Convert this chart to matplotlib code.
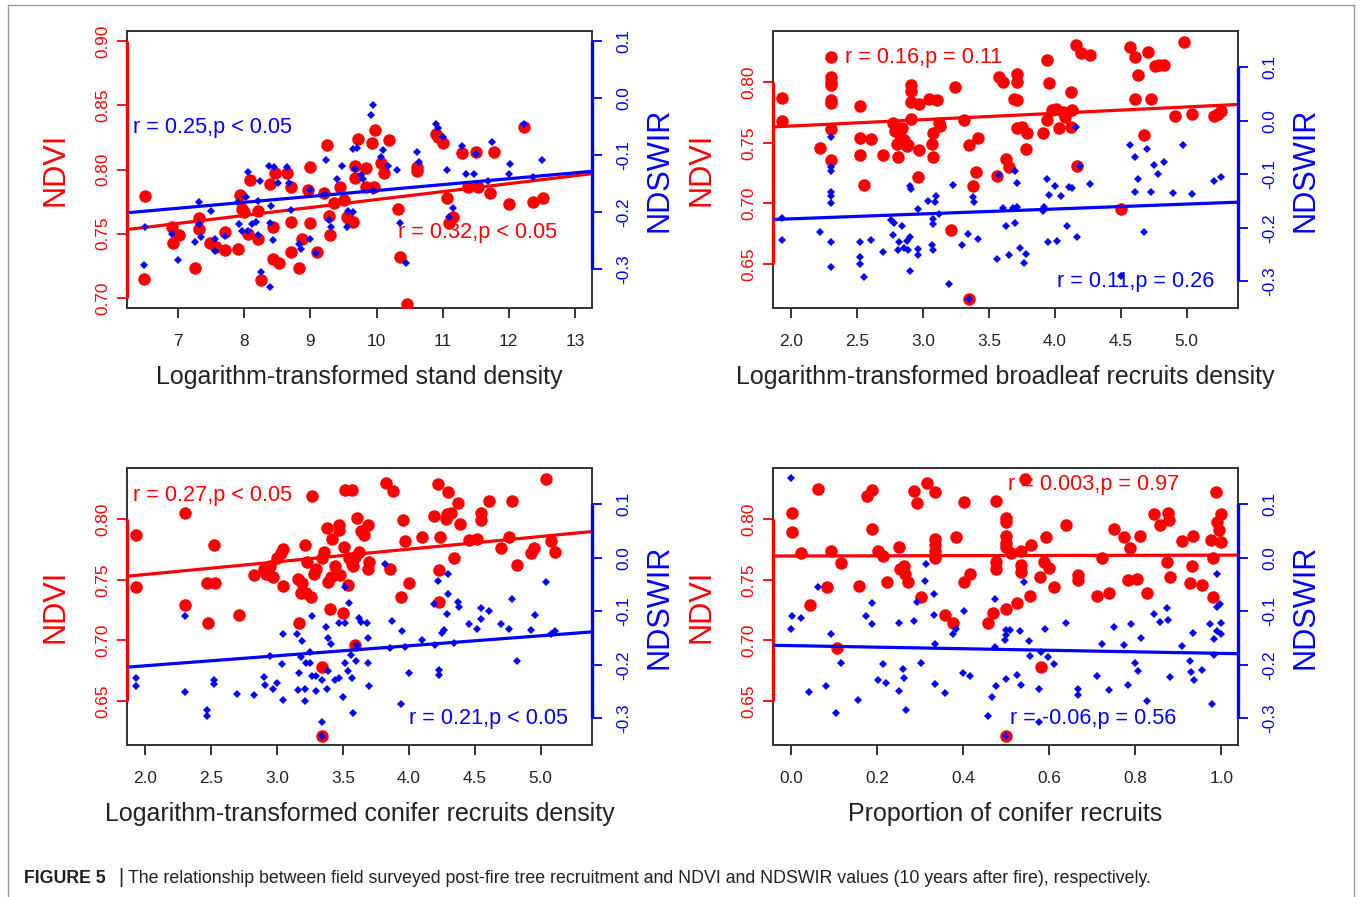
import matplotlib
matplotlib.use('Agg')
import matplotlib.pyplot as plt
from matplotlib import font_manager
from matplotlib.transforms import blended_transform_factory
from matplotlib.lines import Line2D

# ---------------- data ----------------
# Panel 1: stand density
stand_ndvi_pts = [(6.50,0.779),(6.48,0.715),(6.90,0.755),(6.92,0.743),(7.01,0.749),(7.25,0.723),(7.31,0.762),
    (7.32,0.754),(7.48,0.743),(7.57,0.740),(7.71,0.737),(7.71,0.751),(7.90,0.738),(7.93,0.780),(7.97,0.769),
    (8.00,0.767),(8.06,0.750),(8.08,0.792),(8.20,0.768),(8.20,0.746),(8.25,0.714),(8.39,0.789),(8.44,0.755),
    (8.44,0.730),(8.47,0.797),(8.52,0.727),(8.64,0.797),(8.70,0.786),(8.71,0.736),(8.71,0.759),(8.82,0.723),
    (8.87,0.746),(8.99,0.802),(8.97,0.784),(9.00,0.758),(9.10,0.736),(9.21,0.782),(9.25,0.819),(9.28,0.764),
    (9.29,0.749),(9.35,0.774),(9.45,0.786),(9.50,0.776),(9.55,0.763),(9.60,0.760),(9.65,0.759),(9.68,0.803),
    (9.68,0.793),(9.72,0.824),(9.84,0.801),(9.84,0.786),(9.93,0.821),(9.97,0.831),(9.96,0.786),(10.07,0.805),
    (10.12,0.797),(10.19,0.823),(10.32,0.769),(10.36,0.732),(10.46,0.695),(10.61,0.802),(10.61,0.799),
    (10.90,0.828),(10.93,0.825),(11.01,0.821),(11.07,0.778),(11.10,0.758),(11.16,0.763),(11.30,0.813),
    (11.39,0.786),(11.51,0.814),(11.53,0.786),(11.71,0.782),(11.77,0.814),(12.01,0.773),(12.23,0.833),
    (12.37,0.775),(12.52,0.778)]
stand_ndswir_pts = [(6.48,-0.293),(6.50,-0.227),(6.90,-0.238),(7.00,-0.284),(7.25,-0.253),(7.31,-0.183),
    (7.31,-0.221),(7.35,-0.244),(7.50,-0.199),(7.55,-0.247),(7.55,-0.268),(7.70,-0.243),(7.90,-0.183),
    (7.92,-0.221),(7.97,-0.233),(8.03,-0.174),(8.05,-0.130),(8.06,-0.234),(8.12,-0.222),(8.18,-0.218),
    (8.20,-0.241),(8.23,-0.146),(8.25,-0.306),(8.20,-0.180),(8.38,-0.119),(8.39,-0.220),(8.39,-0.331),
    (8.41,-0.190),(8.44,-0.250),(8.45,-0.121),(8.51,-0.150),(8.64,-0.121),(8.68,-0.150),(8.70,-0.197),
    (8.82,-0.257),(8.86,-0.265),(8.99,-0.162),(8.99,-0.248),(9.09,-0.272),(9.22,-0.168),(9.24,-0.108),
    (9.28,-0.215),(9.31,-0.227),(9.40,-0.143),(9.48,-0.119),(9.55,-0.227),(9.57,-0.199),(9.64,-0.200),
    (9.65,-0.089),(9.71,-0.087),(9.68,-0.124),(9.77,-0.136),(9.80,-0.142),(9.91,-0.030),(9.95,-0.013),
    (9.95,-0.163),(10.06,-0.104),(10.10,-0.092),(10.17,-0.119),(10.31,-0.127),(10.35,-0.220),(10.45,-0.289),
    (10.61,-0.095),(10.64,-0.112),(10.90,-0.045),(10.93,-0.052),(11.00,-0.068),(11.06,-0.127),(11.09,-0.209),
    (11.16,-0.193),(11.29,-0.084),(11.36,-0.133),(11.48,-0.133),(11.51,-0.099),(11.68,-0.145),(11.75,-0.077),
    (12.02,-0.115),(12.00,-0.134),(12.23,-0.046),(12.37,-0.139),(12.50,-0.108)]
stand_fit_ndvi = (0.7148, 0.00618)      # intercept, slope
stand_fit_ndswir = (-0.2659, 0.01035)

# Panel 2: broadleaf recruits density
broad_ndvi_pts = [(1.93,0.787),(1.93,0.768),(2.22,0.746),(2.30,0.821),(2.30,0.804),(2.30,0.800),(2.30,0.798),
    (2.30,0.785),(2.30,0.783),(2.30,0.761),(2.30,0.736),(2.52,0.780),(2.52,0.754),(2.52,0.740),(2.55,0.715),
    (2.61,0.753),(2.70,0.740),(2.77,0.766),(2.79,0.760),(2.80,0.749),(2.81,0.738),(2.83,0.756),(2.84,0.762),
    (2.86,0.752),(2.88,0.747),(2.89,0.748),(2.91,0.798),(2.91,0.793),(2.91,0.784),(2.91,0.770),(2.96,0.722),
    (2.97,0.782),(2.97,0.744),(3.05,0.786),(3.07,0.749),(3.08,0.738),(3.08,0.758),(3.11,0.785),(3.12,0.766),
    (3.13,0.764),(3.21,0.678),(3.24,0.796),(3.31,0.769),(3.35,0.748),(3.38,0.714),(3.40,0.726),(3.42,0.754),
    (3.35,0.621),(3.56,0.723),(3.58,0.804),(3.61,0.800),(3.63,0.737),(3.65,0.730),(3.69,0.786),(3.71,0.807),
    (3.71,0.800),(3.71,0.785),(3.71,0.762),(3.75,0.763),(3.79,0.758),(3.78,0.745),(3.91,0.758),(3.94,0.818),
    (3.96,0.799),(3.94,0.769),(3.98,0.777),(4.01,0.778),(4.03,0.762),(4.06,0.775),(4.08,0.771),(4.12,0.792),
    (4.13,0.777),(4.12,0.763),(4.17,0.731),(4.16,0.831),(4.20,0.824),(4.27,0.822),(4.50,0.695),(4.57,0.829),
    (4.61,0.821),(4.63,0.806),(4.61,0.786),(4.68,0.756),(4.71,0.825),(4.73,0.786),(4.76,0.813),(4.79,0.814),
    (4.83,0.814),(4.91,0.772),(4.98,0.833),(5.04,0.774),(5.21,0.772),(5.24,0.774),(5.26,0.776)]
broad_ndswir_pts = [(1.93,-0.182),(1.93,-0.222),(2.22,-0.208),(2.30,-0.031),(2.30,-0.087),(2.30,-0.093),
    (2.30,-0.133),(2.30,-0.141),(2.30,-0.154),(2.30,-0.227),(2.30,-0.272),(2.52,-0.227),(2.52,-0.255),
    (2.52,-0.267),(2.55,-0.292),(2.61,-0.222),(2.70,-0.245),(2.76,-0.186),(2.77,-0.213),(2.78,-0.191),
    (2.81,-0.242),(2.82,-0.227),(2.84,-0.196),(2.86,-0.238),(2.88,-0.224),(2.89,-0.242),(2.90,-0.122),
    (2.91,-0.127),(2.90,-0.216),(2.90,-0.281),(2.96,-0.251),(2.96,-0.239),(2.96,-0.164),(3.04,-0.149),
    (3.07,-0.231),(3.08,-0.242),(3.08,-0.183),(3.08,-0.192),(3.09,-0.152),(3.10,-0.141),(3.12,-0.174),
    (3.20,-0.304),(3.23,-0.120),(3.30,-0.231),(3.34,-0.211),(3.35,-0.332),(3.38,-0.143),(3.39,-0.152),
    (3.42,-0.220),(3.56,-0.258),(3.58,-0.102),(3.63,-0.196),(3.61,-0.163),(3.65,-0.251),(3.68,-0.163),
    (3.70,-0.094),(3.71,-0.116),(3.70,-0.191),(3.71,-0.161),(3.74,-0.238),(3.78,-0.248),(3.77,-0.265),
    (3.91,-0.168),(3.92,-0.160),(3.94,-0.108),(3.96,-0.138),(3.95,-0.227),(4.00,-0.121),(4.02,-0.225),
    (4.05,-0.141),(4.09,-0.197),(4.11,-0.124),(4.13,-0.126),(4.16,-0.012),(4.17,-0.217),(4.19,-0.085),
    (4.27,-0.118),(4.50,-0.289),(4.57,-0.045),(4.61,-0.068),(4.61,-0.132),(4.63,-0.108),(4.68,-0.208),
    (4.70,-0.052),(4.73,-0.132),(4.75,-0.082),(4.78,-0.099),(4.83,-0.077),(4.90,-0.135),(4.97,-0.045),
    (5.04,-0.136),(5.21,-0.113),(5.26,-0.105)]
broad_fit_ndvi = (0.7533, 0.00525)
broad_fit_ndswir = (-0.2014, 0.00919)

# Panel 3: conifer recruits density
conif_ndvi_pts = [(1.93,0.787),(1.93,0.744),(2.30,0.805),(2.30,0.729),(2.48,0.714),(2.47,0.747),(2.52,0.779),
    (2.53,0.747),(2.71,0.721),(2.83,0.754),(2.90,0.759),(2.92,0.755),(2.95,0.761),(2.97,0.752),(3.00,0.768),
    (3.03,0.772),(3.05,0.775),(3.05,0.745),(3.16,0.751),(3.17,0.714),(3.18,0.739),(3.19,0.747),(3.21,0.779),
    (3.22,0.739),(3.23,0.765),(3.26,0.736),(3.27,0.819),(3.28,0.755),(3.30,0.759),(3.34,0.768),(3.34,0.678),
    (3.34,0.621),(3.36,0.773),(3.38,0.793),(3.39,0.748),(3.40,0.726),(3.41,0.752),(3.42,0.784),(3.44,0.761),
    (3.47,0.791),(3.47,0.795),(3.48,0.754),(3.50,0.723),(3.51,0.777),(3.52,0.824),(3.54,0.746),(3.55,0.768),
    (3.57,0.763),(3.57,0.824),(3.58,0.761),(3.59,0.696),(3.59,0.769),(3.61,0.801),(3.62,0.773),(3.64,0.790),
    (3.66,0.787),(3.69,0.759),(3.69,0.795),(3.70,0.765),(3.83,0.830),(3.86,0.759),(3.88,0.823),(3.94,0.736),
    (3.96,0.799),(3.97,0.782),(4.00,0.747),(4.10,0.785),(4.19,0.803),(4.22,0.829),(4.23,0.758),(4.24,0.785),
    (4.23,0.732),(4.28,0.800),(4.29,0.804),(4.30,0.822),(4.32,0.805),(4.34,0.768),(4.37,0.813),(4.39,0.796),
    (4.46,0.783),(4.52,0.784),(4.55,0.805),(4.55,0.799),(4.61,0.815),(4.70,0.776),(4.76,0.785),(4.78,0.815),
    (4.82,0.762),(4.93,0.772),(4.95,0.776),(5.04,0.833),(5.08,0.782),(5.11,0.773)]
conif_ndswir_pts = [(1.93,-0.225),(1.93,-0.239),(2.30,-0.108),(2.30,-0.251),(2.47,-0.284),(2.47,-0.295),
    (2.52,-0.228),(2.52,-0.235),(2.70,-0.254),(2.83,-0.256),(2.90,-0.222),(2.91,-0.237),(2.95,-0.183),
    (2.97,-0.244),(3.00,-0.234),(3.05,-0.143),(3.04,-0.199),(3.05,-0.265),(3.15,-0.143),(3.16,-0.247),
    (3.17,-0.215),(3.18,-0.185),(3.19,-0.156),(3.21,-0.245),(3.21,-0.268),(3.22,-0.197),(3.25,-0.175),
    (3.25,-0.197),(3.27,-0.108),(3.27,-0.221),(3.30,-0.248),(3.30,-0.221),(3.34,-0.306),(3.34,-0.333),
    (3.34,-0.228),(3.37,-0.129),(3.38,-0.244),(3.39,-0.212),(3.39,-0.150),(3.41,-0.160),(3.44,-0.228),
    (3.47,-0.121),(3.47,-0.225),(3.50,-0.259),(3.52,-0.054),(3.52,-0.121),(3.52,-0.197),(3.54,-0.211),
    (3.55,-0.085),(3.56,-0.181),(3.57,-0.225),(3.58,-0.289),(3.60,-0.193),(3.61,-0.162),(3.62,-0.112),
    (3.64,-0.119),(3.68,-0.121),(3.69,-0.149),(3.69,-0.197),(3.70,-0.240),(3.82,-0.011),(3.86,-0.168),
    (3.87,-0.118),(3.94,-0.273),(3.95,-0.136),(3.97,-0.166),(4.00,-0.215),(4.10,-0.153),(4.19,-0.086),
    (4.20,-0.163),(4.22,-0.044),(4.23,-0.218),(4.23,-0.209),(4.25,-0.140),(4.27,-0.135),(4.29,-0.104),
    (4.30,-0.030),(4.30,-0.067),(4.34,-0.159),(4.37,-0.082),(4.38,-0.091),(4.46,-0.124),(4.52,-0.132),
    (4.55,-0.114),(4.55,-0.093),(4.61,-0.099),(4.70,-0.124),(4.76,-0.132),(4.78,-0.077),(4.82,-0.192),
    (4.93,-0.134),(4.96,-0.106),(5.04,-0.046),(5.08,-0.143),(5.11,-0.136)]
conif_fit_ndvi = (0.7334, 0.01046)
conif_fit_ndswir = (-0.2389, 0.01867)

# Panel 4: proportion of conifer recruits
prop_ndvi_pts = [(0.002,0.805),(0.002,0.789),(0.024,0.772),(0.043,0.729),(0.063,0.825),(0.084,0.744),
    (0.092,0.774),(0.107,0.694),(0.117,0.764),(0.158,0.745),(0.177,0.819),(0.187,0.824),(0.187,0.792),
    (0.202,0.774),(0.213,0.770),(0.222,0.748),(0.252,0.777),(0.254,0.759),(0.262,0.761),(0.265,0.755),
    (0.271,0.748),(0.286,0.823),(0.293,0.813),(0.303,0.736),(0.315,0.830),(0.334,0.822),(0.334,0.784),
    (0.334,0.779),(0.334,0.774),(0.334,0.768),(0.357,0.721),(0.376,0.714),(0.383,0.785),(0.401,0.814),
    (0.401,0.748),(0.415,0.755),(0.457,0.714),(0.469,0.723),(0.477,0.765),(0.477,0.759),(0.476,0.815),
    (0.499,0.726),(0.499,0.801),(0.499,0.798),(0.499,0.786),(0.499,0.780),(0.500,0.777),(0.499,0.621),
    (0.511,0.772),(0.526,0.731),(0.535,0.774),(0.535,0.762),(0.535,0.756),(0.543,0.833),(0.555,0.737),
    (0.557,0.779),(0.579,0.752),(0.580,0.678),(0.587,0.765),(0.592,0.785),(0.599,0.760),(0.612,0.744),
    (0.639,0.795),(0.667,0.754),(0.667,0.750),(0.712,0.737),(0.722,0.768),(0.740,0.739),(0.750,0.792),
    (0.773,0.785),(0.789,0.776),(0.783,0.750),(0.804,0.751),(0.812,0.786),(0.827,0.739),(0.844,0.804),
    (0.858,0.795),(0.874,0.765),(0.876,0.805),(0.878,0.799),(0.881,0.752),(0.908,0.782),(0.927,0.747),
    (0.934,0.786),(0.932,0.761),(0.956,0.746),(0.976,0.783),(0.980,0.736),(0.980,0.768),(0.988,0.822),
    (0.991,0.798),(0.995,0.791),(1.000,0.804),(1.000,0.781)]
prop_ndswir_pts = [(0.000,0.149),(0.000,-0.133),(0.002,-0.108),(0.024,-0.113),(0.041,-0.251),(0.063,-0.054),
    (0.082,-0.240),(0.092,-0.143),(0.105,-0.290),(0.115,-0.197),(0.156,-0.265),(0.175,-0.108),(0.187,-0.085),
    (0.187,-0.124),(0.202,-0.228),(0.213,-0.198),(0.221,-0.234),(0.251,-0.121),(0.251,-0.249),(0.261,-0.208),
    (0.263,-0.225),(0.268,-0.284),(0.286,-0.118),(0.293,-0.082),(0.301,-0.196),(0.312,-0.043),(0.314,-0.011),
    (0.332,-0.067),(0.332,-0.106),(0.334,-0.160),(0.334,-0.235),(0.357,-0.253),(0.376,-0.143),(0.383,-0.132),
    (0.401,-0.099),(0.399,-0.215),(0.415,-0.221),(0.457,-0.295),(0.467,-0.259),(0.474,-0.076),(0.474,-0.166),
    (0.476,-0.240),(0.497,-0.154),(0.499,-0.135),(0.499,-0.145),(0.499,-0.226),(0.499,-0.333),(0.510,-0.135),
    (0.526,-0.218),(0.533,-0.137),(0.535,-0.237),(0.541,-0.046),(0.554,-0.156),(0.555,-0.183),(0.577,-0.244),
    (0.577,-0.306),(0.580,-0.175),(0.590,-0.132),(0.598,-0.185),(0.612,-0.198),(0.639,-0.121),(0.667,-0.244),
    (0.667,-0.256),(0.712,-0.221),(0.722,-0.160),(0.738,-0.246),(0.750,-0.130),(0.773,-0.162),(0.783,-0.237),
    (0.790,-0.124),(0.799,-0.197),(0.807,-0.212),(0.814,-0.149),(0.827,-0.268),(0.844,-0.104),(0.858,-0.119),
    (0.874,-0.094),(0.876,-0.116),(0.882,-0.223),(0.908,-0.165),(0.927,-0.192),(0.934,-0.141),(0.929,-0.213),
    (0.936,-0.228),(0.956,-0.210),(0.974,-0.124),(0.978,-0.273),(0.983,-0.151),(0.983,-0.182),(0.990,-0.030),
    (0.991,-0.091),(0.991,-0.136),(0.996,-0.087),(1.000,-0.121),(1.000,-0.143)]
prop_fit_ndvi = (0.7696, 0.00074)
prop_fit_ndswir = (-0.1639, -0.0145)

# ticks and labels
stand_xticks = [7, 8, 9, 10, 11, 12, 13]
dens_xticks = [2.0, 2.5, 3.0, 3.5, 4.0, 4.5, 5.0]
prop_xticks = [0.0, 0.2, 0.4, 0.6, 0.8, 1.0]
stand_ndvi_ticks = [0.70, 0.75, 0.80, 0.85, 0.90]
other_ndvi_ticks = [0.65, 0.70, 0.75, 0.80]
ndswir_ticks = [-0.3, -0.2, -0.1, 0.0, 0.1]

xlabels = ["Logarithm-transformed stand density",
           "Logarithm-transformed broadleaf recruits density",
           "Logarithm-transformed conifer recruits density",
           "Proportion of conifer recruits"]
ndvi_stats = ["r = 0.32,p < 0.05", "r = 0.16,p = 0.11", "r = 0.27,p < 0.05", "r = 0.003,p = 0.97"]
ndswir_stats = ["r = 0.25,p < 0.05", "r = 0.11,p = 0.26", "r = 0.21,p < 0.05", "r = -0.06,p = 0.56"]
caption_head = "FIGURE 5"
caption_body = ("The relationship between field surveyed post-fire tree recruitment and NDVI and "
                "NDSWIR values (10 years after fire), respectively.")

# ---------------- style ----------------
names = {f.name for f in font_manager.fontManager.ttflist}
if 'Liberation Sans Narrow' in names:
    plt.rcParams['font.family'] = ['Liberation Sans Narrow', 'Liberation Sans', 'DejaVu Sans']
    k = 1.0
    cap_fs = 15.6
else:
    plt.rcParams['font.family'] = ['Liberation Sans', 'DejaVu Sans']
    k = 0.82
    cap_fs = 12.8

RED = '#ff0000'
BLUE = '#0000ff'
DARK = '#222222'
W, H = 1362, 897
BW, BH = 465, 277

fig = plt.figure(figsize=(W / 100, H / 100), dpi=100)


def fx(px):
    return px / W


def fy(py):
    return 1 - py / H


def fmt2(v):
    return f"{v:.2f}"


def fmt1(v):
    return f"{v:.1f}"


panels = [
    dict(left=127, top=31, red=stand_ndvi_pts, blue=stand_ndswir_pts, fr=stand_fit_ndvi, fb=stand_fit_ndswir,
         xlim=(6.224, 13.26), yl1=(0.6922, 0.9078), yl2=(-0.3686, 0.1176), xt=stand_xticks, xfmt=lambda v: f"{v:d}",
         yt1=stand_ndvi_ticks, tr=(0.583, 0.271), tb=(0.013, 0.653)),
    dict(left=773, top=31, red=broad_ndvi_pts, blue=broad_ndswir_pts, fr=broad_fit_ndvi, fb=broad_fit_ndswir,
         xlim=(1.863, 5.39), yl1=(0.6137, 0.8422), yl2=(-0.3495, 0.1678), xt=dens_xticks, xfmt=fmt1,
         yt1=other_ndvi_ticks, tr=(0.155, 0.903), tb=(0.611, 0.094)),
    dict(left=127, top=468, red=conif_ndvi_pts, blue=conif_ndswir_pts, fr=conif_fit_ndvi, fb=conif_fit_ndswir,
         xlim=(1.863, 5.39), yl1=(0.6137, 0.8422), yl2=(-0.3495, 0.1678), xt=dens_xticks, xfmt=fmt1,
         yt1=other_ndvi_ticks, tr=(0.013, 0.899), tb=(0.606, 0.097)),
    dict(left=773, top=468, red=prop_ndvi_pts, blue=prop_ndswir_pts, fr=prop_fit_ndvi, fb=prop_fit_ndswir,
         xlim=(-0.042, 1.039), yl1=(0.6137, 0.8422), yl2=(-0.3495, 0.1678), xt=prop_xticks, xfmt=fmt1,
         yt1=other_ndvi_ticks, tr=(0.505, 0.939), tb=(0.51, 0.097)),
]

TICK_FS = 15.2 * k
for i, p in enumerate(panels):
    l, t = p['left'], p['top']
    ax = fig.add_axes([fx(l), fy(t + BH), BW / W, BH / H])
    ax2 = ax.twinx()

    xr, yr = zip(*p['red'])
    xb, yb = zip(*p['blue'])
    ax.plot(xr, yr, 'o', color=RED, ms=9.0, mew=0, zorder=3)
    ax.axline((0, p['fr'][0]), slope=p['fr'][1], color=RED, lw=2.3, zorder=4)
    ax2.plot(xb, yb, 'D', color=BLUE, ms=4.3, mew=0, zorder=3)
    ax2.axline((0, p['fb'][0]), slope=p['fb'][1], color=BLUE, lw=2.3, zorder=4)

    ax.set_xlim(*p['xlim'])
    ax.set_ylim(*p['yl1'])
    ax2.set_ylim(*p['yl2'])

    for s in ax.spines.values():
        s.set_color('#333333')
        s.set_linewidth(1.4)
    for s in ax2.spines.values():
        s.set_visible(False)

    ax.set_xticks(p['xt'], [p['xfmt'](v) for v in p['xt']])
    ax.tick_params(axis='x', colors=DARK, length=7.5, width=1.3, pad=11, labelsize=TICK_FS)
    ax.set_yticks(p['yt1'], [fmt2(v) for v in p['yt1']], rotation=90, va='center')
    ax.tick_params(axis='y', colors=RED, length=7.5, width=1.3, pad=4.5, labelsize=TICK_FS)
    ax2.set_yticks(ndswir_ticks, [f"{v:.1f}" for v in ndswir_ticks], rotation=90, va='center')
    ax2.tick_params(axis='y', colors=BLUE, length=7.5, width=1.3, pad=10, labelsize=TICK_FS)

    # coloured axis lines spanning first to last tick
    tr1 = blended_transform_factory(ax.transAxes, ax.transData)
    ax.plot([0, 0], [min(p['yt1']), max(p['yt1'])], color=RED, lw=2.4, transform=tr1,
            clip_on=False, solid_capstyle='butt', zorder=5)
    tr2 = blended_transform_factory(ax2.transAxes, ax2.transData)
    ax2.plot([1, 1], [min(ndswir_ticks), max(ndswir_ticks)], color=BLUE, lw=2.4, transform=tr2,
             clip_on=False, solid_capstyle='butt', zorder=5)

    ax.text(p['tr'][0], p['tr'][1], ndvi_stats[i], color=RED, fontsize=19 * k,
            transform=ax.transAxes, ha='left', va='center', zorder=6)
    ax2.text(p['tb'][0], p['tb'][1], ndswir_stats[i], color=BLUE, fontsize=19 * k,
             transform=ax2.transAxes, ha='left', va='center', zorder=6)

    cy = t + BH / 2
    fig.text(fx(l - 72), fy(cy), "NDVI", color=RED, fontsize=27 * k, rotation=90, ha='center', va='center')
    fig.text(fx(l + BW + 68), fy(cy), "NDSWIR", color=BLUE, fontsize=27 * k, rotation=90,
             ha='center', va='center')
    fig.text(fx(l + BW / 2), fy(t + BH + 69), xlabels[i], color=DARK, fontsize=22 * k,
             ha='center', va='center')

# caption
fig.text(fx(24), fy(878), caption_head, color='#231f20', fontsize=cap_fs, fontweight='bold',
         ha='left', va='center')
fig.text(fx(121), fy(877), "|", color='#231f20', fontsize=cap_fs * 1.1, ha='center', va='center')
fig.text(fx(128), fy(878), caption_body, color='#231f20', fontsize=cap_fs, ha='left', va='center')

# outer frame
frame_kw = dict(transform=fig.transFigure, color='#9a9a9a', lw=1.0)
fig.add_artist(Line2D([fx(8), fx(1354)], [fy(5), fy(5)], **frame_kw))
fig.add_artist(Line2D([fx(8), fx(8)], [fy(5), 0], **frame_kw))
fig.add_artist(Line2D([fx(1354), fx(1354)], [fy(5), 0], **frame_kw))

fig.savefig('out.png', dpi=100)
